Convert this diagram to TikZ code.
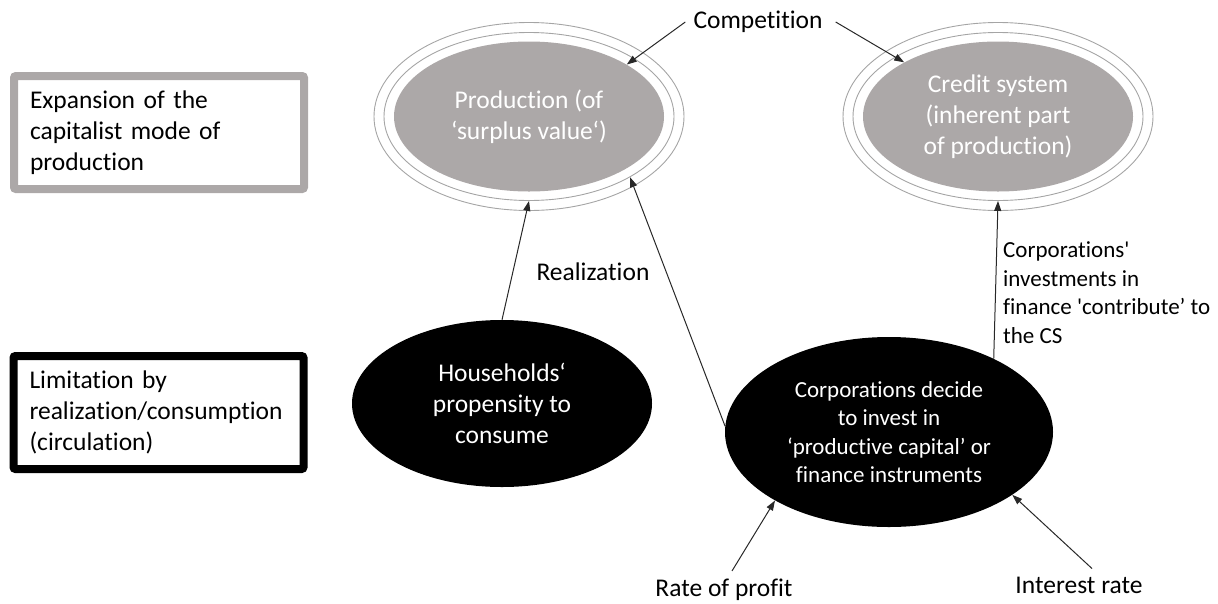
\documentclass[tikz,border=0pt]{standalone}
\usepackage{fontspec}
\setmainfont{Carlito}[Ligatures={TeX,NoCommon}]
\usetikzlibrary{arrows.meta,shapes.geometric}
\definecolor{ringgray}{RGB}{165,165,165}
\definecolor{fillgray}{RGB}{172,168,168}
\definecolor{linegray}{RGB}{40,40,40}
\begin{document}
\begin{tikzpicture}[x=1pt,y=-1pt,
  big/.style={font=\fontsize{25.5}{31}\selectfont},
  small/.style={font=\fontsize{23}{28.5}\selectfont},
  levelbox/.style={draw, line width=8pt, rounded corners=2pt, minimum width=290pt, minimum height=113pt, align=left, text width=258pt, inner xsep=16pt, inner ysep=0pt, big},
  greyell/.style={ellipse, fill=fillgray, minimum width=270pt, minimum height=150pt, inner sep=0pt, text=white, align=center, big},
  ring/.style={ellipse, draw=ringgray, line width=0.9pt, inner sep=0pt},
  blackell/.style={ellipse, fill=black, inner sep=0pt, text=white, align=center},
  lbl/.style={big, inner sep=8pt},
  conn/.style={draw=linegray, line width=1pt, -{Triangle[length=10pt,width=7pt]}}
]
\useasboundingbox (0,0) rectangle (1218,603);

% level boxes
\node[levelbox, draw=fillgray] (expbox) at (159,132.5) {Expansion of the\\capitalist mode of\\production};
\node[levelbox, draw=black] (limbox) at (158.5,412.5) {Limitation by\\realization/consumption\\(circulation)};

% production
\node[ring, minimum width=310pt, minimum height=188pt] (prodr2) at (529,116.5) {};
\node[ring, minimum width=290pt, minimum height=168pt] (prodr1) at (529,116.5) {};
\node[greyell] (prod) at (529,116.5) {Production (of\\‘surplus value‘)};

% credit system
\node[ring, minimum width=310pt, minimum height=188pt] (csr2) at (998,116.5) {};
\node[ring, minimum width=290pt, minimum height=168pt] (csr1) at (998,116.5) {};
\node[greyell] (cs) at (998,116.5) {Credit system\\(inherent part\\of production)};

% black ellipses
\node[blackell, big, minimum width=300pt, minimum height=167pt] (hh) at (502,403.5) {Households‘\\propensity to\\consume};
\node[blackell, small, minimum width=328pt, minimum height=190pt] (corp) at (889,432) {Corporations decide\\to invest in\\‘productive capital’ or\\finance instruments};

% labels
\node[lbl] (comp) at (758,22) {Competition};
\node[lbl] (real) at (593,272) {Realization};
\node[lbl] (rate) at (724,590) {Rate of profit};
\node[lbl] (interest) at (1079,585) {Interest rate};
\node[small, align=left, anchor=west, inner sep=0pt] (cslbl) at (1003,292.5) {Corporations\textquotesingle\\investments in\\finance \textquotesingle contribute’ to\\the CS};

% connectors
\draw[conn] (comp.west) -- (prod.28.6);
\draw[conn] ([xshift=5pt]comp.east) -- (cs.150.2);
\draw[conn] (hh.north) -- (prodr1.south);
\draw[conn] (corp.178) -- (prodr1.-31.7);
\draw[conn] (corp.35) -- (csr1.south);
\draw[conn] ([xshift=8pt]rate.north) -- (corp.211);
\draw[conn] ([xshift=13pt]interest.north) -- (corp.-27.3);
\end{tikzpicture}
\end{document}
